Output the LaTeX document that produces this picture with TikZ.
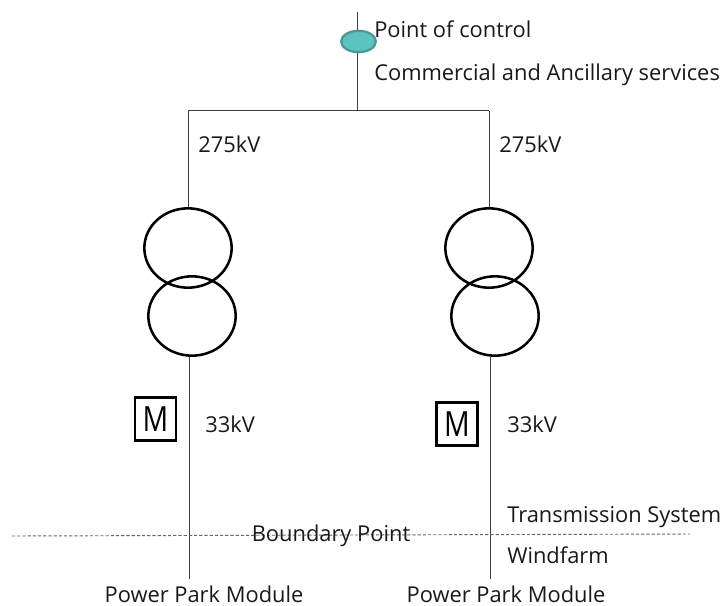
\documentclass[tikz,border=0pt]{standalone}
\usepackage{fontspec}
\setmainfont{Open Sans}
\usetikzlibrary{shapes.geometric}
\definecolor{pocfill}{RGB}{92,196,190}
\definecolor{pocedge}{RGB}{78,150,146}
\tikzset{
  px/.style={x=0.75pt,y=-0.75pt},
  wire/.style={draw=black!75,line width=0.75pt},
  winding/.style={ellipse,draw=black,line width=1.9pt,minimum width=65.5pt,minimum height=59.5pt,inner sep=0pt},
  meter/.style={draw=black,line width=1.9pt,minimum width=31pt,minimum height=32pt,inner sep=0pt,font=\fontsize{26}{28}\selectfont},
  lbl/.style={inner sep=0pt,font=\fontsize{16.4}{18}\selectfont,text=black!90},
  poc/.style={ellipse,draw=pocedge,line width=1.7pt,fill=pocfill,minimum width=26pt,minimum height=16pt,inner sep=0pt}
}
\begin{document}
\begin{tikzpicture}[px]
\useasboundingbox (0,0) rectangle (724,606);
\coordinate (top) at (357,12);
\coordinate (busc) at (357,111);
\coordinate (busl) at (188,111);
\coordinate (busr) at (489,111);
\node[winding] (tl1) at (188,248) {};
\node[winding] (tl2) at (192,316) {};
\node[winding] (tr1) at (489,248) {};
\node[winding] (tr2) at (495,316) {};
\coordinate (el) at (189,579);
\coordinate (er) at (490,579);
\draw[wire] (top) -- (busc);
\draw[wire] (busl) -- (busr);
\draw[wire] (busl) -- (tl1.north);
\draw[wire] (busr) -- (tr1.north);
\draw[wire] (el |- tl2.south) -- (el);
\draw[wire] (er |- tr2.south) -- (er);
\node[poc] (pc) at (358.5,41.5) {};
\node[meter] (ml) at (155.5,419) {\scalebox{0.82}[1]{M}};
\node[meter] (mr) at (457,424) {\scalebox{0.82}[1]{M}};
\coordinate (bl) at (12,536);
\coordinate (br) at (690,534);
\node[lbl,anchor=west] (t1) at (374,29) {Point of control};
\node[lbl,anchor=west] (t2) at (374,75) {Commercial and Ancillary services};
\node[lbl,anchor=west] (t3) at (198,144) {275kV};
\node[lbl,anchor=west] (t4) at (499,144) {275kV};
\node[lbl,anchor=west] (t5) at (205,424) {33kV};
\node[lbl,anchor=west] (t6) at (507,424) {33kV};
\node[lbl,anchor=west] (t7) at (507,517) {Transmission System};
\node[lbl,anchor=west] (t8) at (507,555) {Windfarm};
\node[lbl,anchor=center] (t9) at (204,594.5) {Power Park Module};
\node[lbl,anchor=center] (t10) at (506,594.5) {Power Park Module};
\draw[black!60,line width=0.7pt,dash pattern=on 2.4pt off 1.5pt] (bl) -- (br);
\node[lbl,anchor=center] (t11) at (331,536) {Boundary Point};
\end{tikzpicture}
\end{document}
